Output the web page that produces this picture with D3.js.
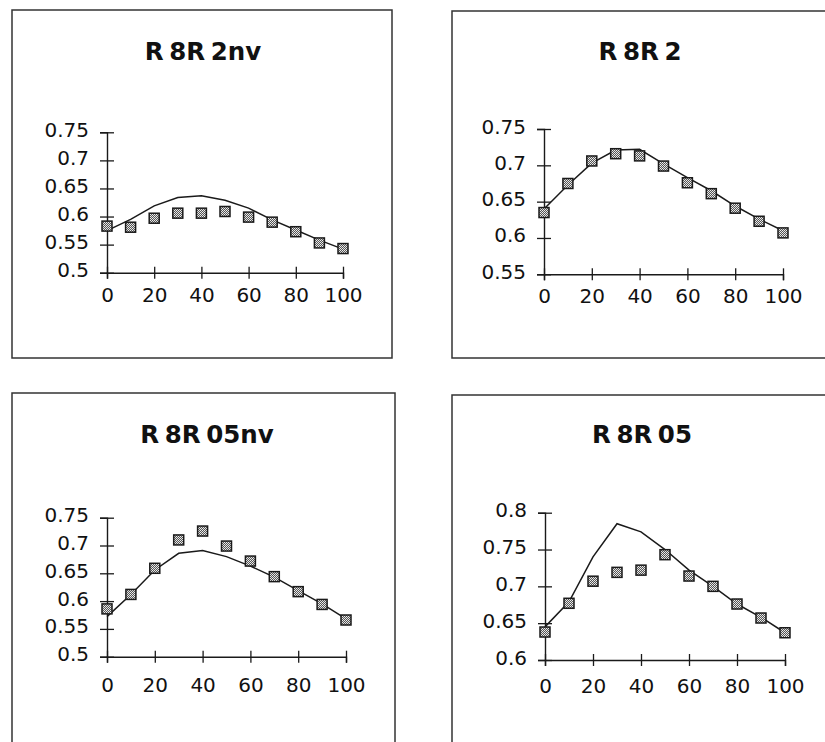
<!DOCTYPE html>
<html>
<head>
<meta charset="utf-8">
<script src="https://cdn.jsdelivr.net/npm/d3@7"></script>
<style>
  body { margin: 0; background: #fff; }
  svg { display: block; }
</style>
</head>
<body>
<svg id="chart" width="825" height="742"></svg>
<script>
// shared x positions (percent)
const xs = [0, 10, 20, 30, 40, 50, 60, 70, 80, 90, 100];
const xTicks = [0, 20, 40, 60, 80, 100];

const titles = ["R 8R 2nv", "R 8R 2", "R 8R 05nv", "R 8R 05"];

// model curve (line) per panel
const line2nv = [0.575, 0.595, 0.619, 0.634, 0.637, 0.629, 0.615, 0.594, 0.576, 0.558, 0.542];
const line2 = [0.640, 0.673, 0.703, 0.721, 0.722, 0.702, 0.683, 0.665, 0.644, 0.626, 0.610];
const line05nv = [0.572, 0.612, 0.656, 0.686, 0.691, 0.680, 0.663, 0.643, 0.619, 0.595, 0.568];
const line05 = [0.645, 0.679, 0.740, 0.785, 0.774, 0.750, 0.722, 0.700, 0.676, 0.658, 0.637];

// measured points per panel
const pts2nv = [0.583, 0.581, 0.597, 0.606, 0.606, 0.609, 0.599, 0.590, 0.573, 0.553, 0.543];
const pts2 = [0.635, 0.675, 0.706, 0.716, 0.713, 0.699, 0.676, 0.661, 0.641, 0.623, 0.607];
const pts05nv = [0.586, 0.612, 0.659, 0.710, 0.726, 0.699, 0.672, 0.644, 0.617, 0.594, 0.566];
const pts05 = [0.638, 0.677, 0.707, 0.719, 0.722, 0.743, 0.714, 0.700, 0.676, 0.657, 0.637];

// y axis ticks per panel
const yTicks2nv = [0.5, 0.55, 0.6, 0.65, 0.7, 0.75];
const yTicks2 = [0.55, 0.6, 0.65, 0.7, 0.75];
const yTicks05nv = [0.5, 0.55, 0.6, 0.65, 0.7, 0.75];
const yTicks05 = [0.6, 0.65, 0.7, 0.75, 0.8];

const series = [
    { line: line2nv, pts: pts2nv, ticks: yTicks2nv },
    { line: line2, pts: pts2, ticks: yTicks2 },
    { line: line05nv, pts: pts05nv, ticks: yTicks05nv },
    { line: line05, pts: pts05, ticks: yTicks05 },
];

// page layout of the four boxes
const layout = [
    { frame: [12, 10, 380, 348], xr: [107, 343], yr: [272.7, 132.3], title: [203, 60], labDy: 29 },
    { frame: [452, 11, 378, 347], xr: [544, 783], yr: [274.3, 129], title: [640, 60], labDy: 29 },
    { frame: [12, 393, 383, 370], xr: [107, 346], yr: [656.7, 517.7], title: [207, 443], labDy: 35 },
    { frame: [452, 395, 380, 370], xr: [545, 785], yr: [660, 512.7], title: [642, 443], labDy: 33 },
];

const svg = d3.select("#chart");
const INK = "#1a1a1a";

let pat = svg.append("defs").append("pattern")
    .attr("id", "dots")
    .attr("width", 2).attr("height", 2)
    .attr("patternUnits", "userSpaceOnUse");
pat.append("rect").attr("width", 2).attr("height", 2).attr("fill", "#555");
pat.append("rect").attr("width", 1).attr("height", 1).attr("fill", "#eee");
pat.append("rect").attr("x", 1).attr("y", 1).attr("width", 1).attr("height", 1).attr("fill", "#ddd");

for (let i = 0; i < 4; i++) {
    let L = layout[i];
    let s = series[i];
    let g = svg.append("g");

    g.append("rect")
        .attr("x", L.frame[0]).attr("y", L.frame[1])
        .attr("width", L.frame[2]).attr("height", L.frame[3])
        .attr("fill", "none")
        .attr("stroke", "#333")
        .attr("stroke-width", 1.5);

    g.append("text")
        .attr("x", L.title[0]).attr("y", L.title[1])
        .attr("text-anchor", "middle")
        .attr("font-family", "DejaVu Sans")
        .attr("font-weight", "bold")
        .attr("font-size", 24.5)
        .attr("word-spacing", -3)
        .attr("fill", "#111")
        .text(titles[i]);

    let x = d3.scaleLinear().domain([0, 100]).range(L.xr);
    let y = d3.scaleLinear().domain(d3.extent(s.ticks)).range(L.yr);

    let yAxis = g.append("g")
        .attr("transform", `translate(${L.xr[0]},0)`)
        .call(d3.axisLeft(y).tickValues(s.ticks).tickSize(7).tickPadding(11).tickFormat(d3.format("")));
    yAxis.selectAll(".tick line").attr("x1", 7);

    let xAxis = g.append("g")
        .attr("transform", `translate(0,${L.yr[0]})`)
        .call(d3.axisBottom(x).tickValues(xTicks).tickSize(6).tickPadding(0));
    xAxis.selectAll(".tick line").attr("y1", -6);
    xAxis.selectAll(".tick text").attr("dy", 0).attr("y", L.labDy);

    for (let ax of [xAxis, yAxis]) {
        ax.select(".domain").attr("stroke", INK).attr("stroke-width", 1.4);
        ax.selectAll(".tick line").attr("stroke", INK).attr("stroke-width", 1.3);
        ax.selectAll(".tick text")
            .attr("font-family", "DejaVu Sans")
            .attr("font-size", 20)
            .attr("fill", "#111");
    }
    yAxis.selectAll(".tick text").attr("dy", "0.2em");

    g.append("path")
        .datum(xs)
        .attr("fill", "none")
        .attr("stroke", INK)
        .attr("stroke-width", 1.5)
        .attr("d", d3.line().x(d => x(d)).y((d, j) => y(s.line[j])));

    g.selectAll(".pt")
        .data(xs)
        .join("rect")
        .attr("class", "pt")
        .attr("x", d => x(d) - 5)
        .attr("y", (d, j) => y(s.pts[j]) - 5)
        .attr("width", 10).attr("height", 10)
        .attr("fill", "url(#dots)")
        .attr("stroke", INK)
        .attr("stroke-width", 1.5);
}
</script>
</body>
</html>
